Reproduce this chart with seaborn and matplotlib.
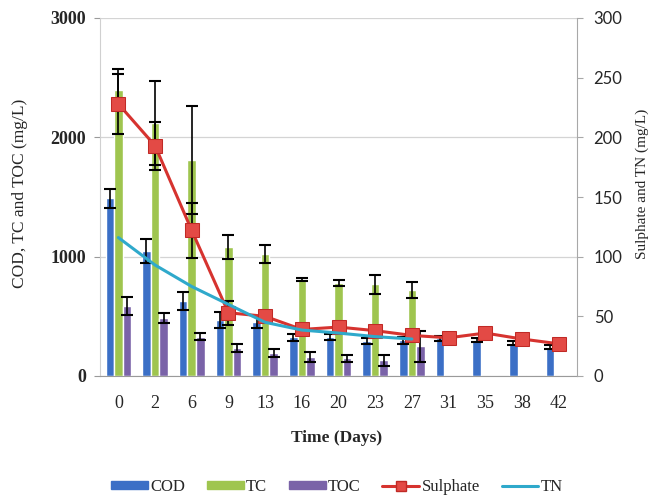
import numpy as np
import pandas as pd
import matplotlib.pyplot as plt
import seaborn as sns
from matplotlib.lines import Line2D
from matplotlib.patches import Patch

# data
days = ["0", "2", "6", "9", "13", "16", "20", "23", "27", "31", "35", "38", "42"]
cod = [1490, 1050, 630, 470, 450, 325, 330, 290, 300, 315, 300, 275, 245]
cod_err = [80, 100, 75, 65, 50, 30, 25, 25, 30, 20, 15, 15, 15]
tc = [2400, 2120, 1810, 1080, 1020, 810, 780, 770, 720, 0, 0, 0, 0]
tc_err = [170, 350, 450, 100, 75, 12, 25, 80, 65, 0, 0, 0, 0]
toc = [590, 485, 330, 235, 195, 160, 150, 130, 250, 0, 0, 0, 0]
toc_err = [75, 40, 30, 35, 35, 40, 30, 45, 130, 0, 0, 0, 0]
sulphate = [228, 193, 122, 53, 50, 39, 41, 38, 34, 32, 36, 31, 27]
sulphate_err = [25, 20, 23, 10, 3, 2, 2, 2, 2, 2, 2, 2, 2]
tn = [116, 93, 75, 60, 45, 38.5, 36, 33, 31, np.nan, np.nan, np.nan, np.nan]

bar_names = ["COD", "TC", "TOC"]
bar_colors = ["#3b6fc6", "#9fc54f", "#7a63a8"]
red = "#d6332f"
cyan = "#2fa9cb"

df = pd.DataFrame({
    "Day": days * 3,
    "Param": ["COD"] * len(days) + ["TC"] * len(days) + ["TOC"] * len(days),
    "Value": cod + tc + toc,
})

sns.set_style("white")
plt.rcParams["font.family"] = ["Liberation Serif", "DejaVu Serif"]

fig = plt.figure(figsize=(6.55, 4.99), dpi=100)
ax = fig.add_axes([100 / 655, 123 / 499, 477 / 655, 358 / 499])

sns.barplot(
    data=df, x="Day", y="Value", hue="Param",
    order=days, hue_order=bar_names, palette=bar_colors,
    errorbar=None, width=0.7, saturation=1, legend=False, ax=ax
)

# error bars on the bars (none where there is no measurement)
for container, errs in zip(ax.containers, [cod_err, tc_err, toc_err]):
    for bar, e in zip(container, errs):
        if bar.get_height() == 0:
            continue
        ax.errorbar(
            bar.get_x() + bar.get_width() / 2, bar.get_height(), yerr=e,
            color="black", lw=1.2, capsize=4, capthick=1.5, zorder=5
        )

ax.set_ylim(0, 3000)
ax.set_xlim(-0.5, len(days) - 0.5)
ax.set_yticks([0, 1000, 2000, 3000])
ax.yaxis.grid(True, color="#d4d4d4", lw=0.9)
ax.set_axisbelow(True)
ax.set_xlabel("")
ax.set_ylabel("")
for s in ["top", "right"]:
    ax.spines[s].set_visible(False)
ax.spines["left"].set_color("#d0d0d0")
ax.spines["bottom"].set_color("#9a9a9a")
ax.tick_params(axis="x", length=0, pad=14, labelsize=13)
ax.tick_params(axis="y", length=4, color="#9a9a9a", direction="out", labelsize=13, pad=6)
for t in ax.get_yticklabels():
    t.set_fontweight("bold")

# right axis lines
ax2 = ax.twinx()
xpos = np.arange(len(days))
ax2.errorbar(xpos, sulphate, yerr=sulphate_err, fmt="none",
             ecolor="black", lw=1.2, capsize=4, capthick=1.5, zorder=3)
sns.lineplot(x=xpos, y=sulphate, color=red, lw=2.2, marker="s",
             markersize=9.5, markerfacecolor="#e34a45", markeredgecolor="#c02a26",
             ax=ax2, zorder=4)
sns.lineplot(x=xpos, y=tn, color=cyan, lw=2.2, ax=ax2, zorder=4)
ax2.set_ylim(0, 300)
ax2.set_yticks(range(0, 301, 50))
ax2.set_xlim(-0.5, len(days) - 0.5)
for s in ["top", "left", "bottom"]:
    ax2.spines[s].set_visible(False)
ax2.spines["right"].set_color("#a8a8a8")
ax2.tick_params(axis="y", length=4, color="#a8a8a8", direction="out", pad=8)
for t in ax2.get_yticklabels():
    t.set_fontfamily("Lato")
    t.set_fontsize(12)

fig.text(20 / 655, 1 - 193 / 499, "COD, TC and TOC (mg/L)", rotation=90,
         ha="center", va="center", fontsize=12.5)
fig.text(642 / 655, 1 - 184 / 499, "Sulphate and TN (mg/L)", rotation=90,
         ha="center", va="center", fontsize=11)
fig.text(337 / 655, 1 - 438 / 499, "Time (Days)", ha="center", va="center",
         fontsize=12.5, fontweight="bold")

handles = [Patch(color=c) for c in bar_colors] + [
    Line2D([], [], color=red, lw=2.2, marker="s", markersize=7,
           markerfacecolor="#e34a45", markeredgecolor="#c02a26"),
    Line2D([], [], color=cyan, lw=2.2),
]
fig.legend(handles, bar_names + ["Sulphate", "TN"], loc="center",
           bbox_to_anchor=(337 / 655, 1 - 487 / 499), ncol=5, frameon=False,
           fontsize=12, handlelength=2.2, handleheight=0.4, handletextpad=0.15,
           columnspacing=1.3)

fig.savefig("out.png", dpi=100)
